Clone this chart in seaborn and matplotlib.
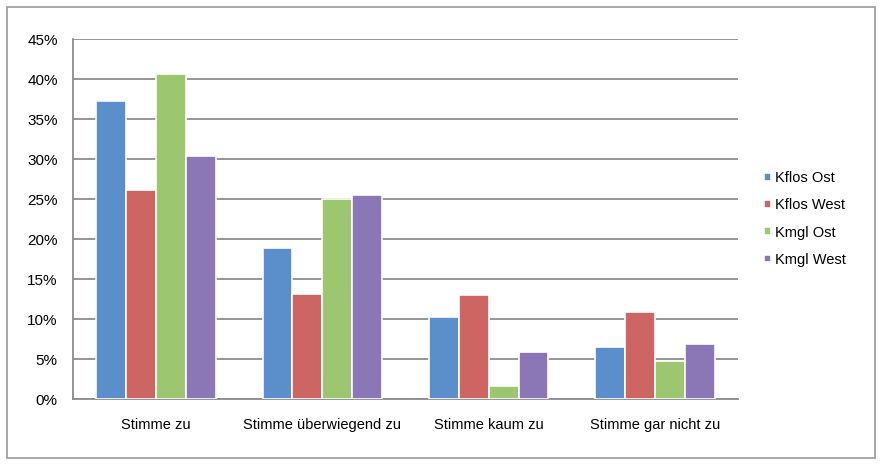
import pandas as pd
import numpy as np
import matplotlib.pyplot as plt
import seaborn as sns
from matplotlib.patches import Rectangle
from matplotlib.ticker import PercentFormatter

# ── Daten ────────────────────────────────────────────────────
kategorien = ["Stimme zu", "Stimme überwiegend zu", "Stimme kaum zu", "Stimme gar nicht zu"]
gruppen = ["Kflos Ost", "Kflos West", "Kmgl Ost", "Kmgl West"]
kflos_ost = [37.2, 18.9, 10.2, 6.5]
kflos_west = [26.1, 13.1, 13.0, 10.9]
kmgl_ost = [40.6, 25.0, 1.6, 4.7]
kmgl_west = [30.4, 25.5, 5.9, 6.9]
farben = ["#5B8FCB", "#CD6562", "#9DC670", "#8B76B6"]

df = pd.DataFrame({
    "Kategorie": kategorien * 4,
    "Gruppe": np.repeat(gruppen, 4),
    "Wert": kflos_ost + kflos_west + kmgl_ost + kmgl_west,
})

sns.set_style("white")
plt.rcParams["font.family"] = ["Liberation Sans", "DejaVu Sans"]
plt.rcParams["text.color"] = "black"
plt.rcParams["xtick.color"] = "black"
plt.rcParams["ytick.color"] = "black"

fig = plt.figure(figsize=(8.81, 4.65), dpi=100)
ax = fig.add_axes([0.0829, 0.1419, 0.7548, 0.7742])

sns.barplot(data=df, x="Kategorie", y="Wert", hue="Gruppe", order=kategorien,
            hue_order=gruppen, palette=farben, width=0.72, ax=ax,
            edgecolor="white", linewidth=1.2, saturation=1, zorder=3)

ax.set_ylim(0, 45)
ax.set_xlim(-0.5, 3.5)
ax.set_yticks(np.arange(0, 46, 5))
ax.yaxis.set_major_formatter(PercentFormatter(decimals=0))
ax.grid(axis="y", color="#8c8c8c", linewidth=1.3, zorder=0)
ax.set_axisbelow(True)
ax.set_xlabel("")
ax.set_ylabel("")

for side in ["top", "right"]:
    ax.spines[side].set_visible(False)
for side in ["left", "bottom"]:
    ax.spines[side].set_color("#8c8c8c")
    ax.spines[side].set_linewidth(1.3)

ax.tick_params(axis="y", length=4, width=1.3, color="#8c8c8c", labelcolor="black",
               labelsize=11, pad=7)
ax.set_xticks(np.arange(4))
ax.set_xticklabels(kategorien)
ax.tick_params(axis="x", length=0, labelsize=10.5, labelcolor="black", pad=14)
ax.set_xticks([0.5, 1.5, 2.5, 3.5], minor=True)
ax.tick_params(axis="x", which="minor", length=4, width=1.3, color="#8c8c8c")

leg = ax.legend(loc="center left", bbox_to_anchor=(1.02, 0.5), frameon=False,
                fontsize=10.5, handlelength=0.45, handleheight=0.45,
                handletextpad=0.3, labelspacing=0.9)

fig.patches.append(Rectangle((0.008, 0.015), 0.985, 0.97, transform=fig.transFigure,
                             fill=False, edgecolor="#9a9a9a", linewidth=1.2))

plt.savefig("out.png", dpi=100)
